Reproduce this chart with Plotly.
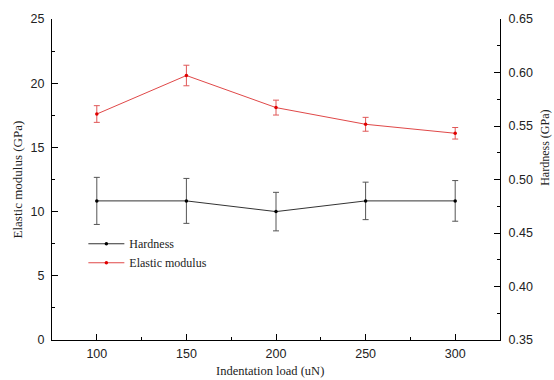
import plotly.graph_objects as go

loads = [100, 150, 200, 250, 300]
hardness = [0.480, 0.480, 0.470, 0.480, 0.480]
hardness_err = [0.022, 0.021, 0.018, 0.0175, 0.019]
modulus = [17.6, 20.6, 18.1, 16.8, 16.1]
modulus_err = [0.65, 0.8, 0.58, 0.54, 0.45]

x_ticks = [100, 150, 200, 250, 300]
y1_ticks = [0, 5, 10, 15, 20, 25]
y2_ticks = [0.35, 0.40, 0.45, 0.50, 0.55, 0.60, 0.65]

SERIF = "Liberation Serif"
SANS = "Liberation Sans"

fig = go.Figure()
fig.add_trace(go.Scatter(
    x=loads, y=hardness, yaxis="y2", name="Hardness",
    mode="lines+markers",
    line=dict(color="#333333", width=1),
    marker=dict(color="#000000", size=3.5),
    error_y=dict(type="data", array=hardness_err, color="#555555", thickness=1, width=3),
))
fig.add_trace(go.Scatter(
    x=loads, y=modulus, yaxis="y", name="Elastic modulus",
    mode="lines+markers",
    line=dict(color="#e04848", width=1),
    marker=dict(color="#e00000", size=3.5),
    error_y=dict(type="data", array=modulus_err, color="#e05858", thickness=1, width=3),
))

axis_common = dict(
    showline=True, linecolor="#000000", linewidth=1,
    ticks="inside", ticklen=6, tickwidth=1, tickcolor="#000000",
    showgrid=False, zeroline=False,
    tickfont=dict(family=SANS, size=12.5, color="#222222"),
)

fig.update_layout(
    width=554, height=380,
    margin=dict(l=52, r=54, t=14, b=40),
    paper_bgcolor="white", plot_bgcolor="white",
    showlegend=True,
    legend=dict(
        x=0.07, y=0.345, xanchor="left", yanchor="top",
        font=dict(family=SERIF, size=12, color="#222222"),
        bgcolor="rgba(0,0,0,0)", tracegroupgap=0, itemwidth=36,
    ),
    xaxis=dict(
        range=[75, 325], tickvals=x_ticks,
        minor=dict(ticks="inside", ticklen=3, tickcolor="#000000", dtick=25, tick0=0),
        ticklabelstandoff=2,
        **axis_common,
    ),
    yaxis=dict(
        range=[0, 25], tickvals=y1_ticks,
        minor=dict(ticks="inside", ticklen=3, tickcolor="#000000", dtick=2.5, tick0=0),
        ticklabelstandoff=4,
        **axis_common,
    ),
    yaxis2=dict(
        range=[0.35, 0.65], tickvals=y2_ticks, tickformat=".2f",
        overlaying="y", side="right",
        minor=dict(ticks="inside", ticklen=3, tickcolor="#000000", dtick=0.025, tick0=0.35),
        ticklabelstandoff=5,
        **axis_common,
    ),
    annotations=[
        dict(text="Elastic modulus (GPa)", xref="paper", yref="paper",
             x=-0.076, y=0.5, textangle=-90, showarrow=False,
             xanchor="center", yanchor="middle",
             font=dict(family=SERIF, size=13, color="#222222")),
        dict(text="Hardness (GPa)", xref="paper", yref="paper",
             x=1.1, y=0.598, textangle=-90, showarrow=False,
             xanchor="center", yanchor="middle",
             font=dict(family=SERIF, size=12, color="#222222")),
        dict(text="Indentation load (uN)", xref="paper", yref="paper",
             x=0.487, y=-0.098, showarrow=False,
             xanchor="center", yanchor="middle",
             font=dict(family=SERIF, size=12.5, color="#222222")),
    ],
)

fig.write_html("out.html")
